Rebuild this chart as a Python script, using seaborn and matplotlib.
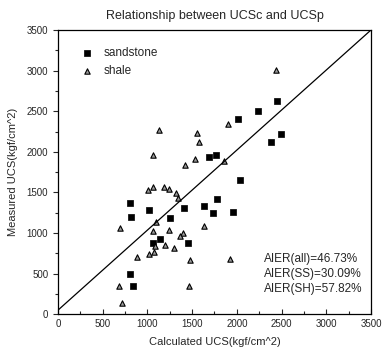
import numpy as np
import pandas as pd
import matplotlib
matplotlib.use("Agg")
import matplotlib.pyplot as plt
import seaborn as sns

# Data
ss_calc = [2452, 2236, 2009, 2497, 2385, 1685, 1770, 2031, 805, 1014, 820, 1413,
           1249, 1636, 1774, 1730, 1953, 1144, 1450, 1062, 809, 842]
ss_meas = [2629, 2509, 2403, 2218, 2123, 1935, 1955, 1651, 1368, 1285, 1195, 1314,
           1191, 1335, 1417, 1245, 1265, 932, 883, 875, 497, 345]
sh_calc = [2434, 1897, 1133, 1558, 1577, 1066, 1535, 1420, 1856, 1003, 1059, 1185,
           1241, 1316, 1342, 693, 1099, 1066, 1245, 1398, 1364, 1633, 1088, 1200,
           1301, 1077, 1021, 887, 1472, 1920, 682, 1465, 719]
sh_meas = [3011, 2345, 2271, 2231, 2120, 1963, 1914, 1832, 1886, 1532, 1573, 1569,
           1540, 1491, 1437, 1068, 1134, 1027, 1039, 1006, 965, 1088, 842, 850,
           821, 772, 739, 702, 665, 686, 353, 345, 139]
line_x = [0, 3500]
line_y = [50, 3500]
annotations = ["AIER(all)=46.73%", "AIER(SS)=30.09%", "AIER(SH)=57.82%"]
ann_y = [678, 497, 312]

df = pd.DataFrame({
    "calc": ss_calc + sh_calc,
    "meas": ss_meas + sh_meas,
    "rock": ["sandstone"] * len(ss_calc) + ["shale"] * len(sh_calc),
})

sns.set_style("ticks")
plt.rcParams["font.family"] = ["Liberation Sans Narrow", "Liberation Sans", "DejaVu Sans"]

fig = plt.figure(figsize=(3.84, 3.62), dpi=100)
ax = fig.add_axes([0.151, 0.132, 0.815, 0.785])

sns.lineplot(x=line_x, y=line_y, ax=ax, color="black", linewidth=0.9)
sns.scatterplot(data=df[df.rock == "sandstone"], x="calc", y="meas", ax=ax,
                marker="s", color="black", edgecolor="black", s=13, linewidth=0.5,
                label="sandstone")
sns.scatterplot(data=df[df.rock == "shale"], x="calc", y="meas", ax=ax,
                marker="^", color="#9a9a9a", edgecolor="black", s=15, linewidth=0.8,
                label="shale")

for t, yy in zip(annotations, ann_y):
    ax.text(2300, yy, t, fontsize=8.5, va="center", ha="left")

ax.set_xlim(0, 3500)
ax.set_ylim(0, 3500)
ax.set_xticks(np.arange(0, 3501, 500))
ax.set_yticks(np.arange(0, 3501, 500))
ax.set_xticks(np.arange(250, 3500, 500), minor=True)
ax.set_yticks(np.arange(250, 3500, 500), minor=True)
ax.tick_params(axis="x", which="both", direction="in", labelsize=7)
ax.tick_params(axis="y", which="both", direction="out", labelsize=7)
ax.tick_params(which="major", length=3.5, width=0.8)
ax.tick_params(which="minor", length=2, width=0.8)
for sp in ax.spines.values():
    sp.set_linewidth(0.9)
    sp.set_color("black")

ax.set_xlabel("Calculated UCS(kgf/cm^2)", fontsize=8, labelpad=6)
ax.set_ylabel("Measured UCS(kgf/cm^2)", fontsize=8, labelpad=6)
ax.set_title("Relationship between UCSc and UCSp", fontsize=9, pad=8)

leg = ax.legend(loc="upper left", bbox_to_anchor=(0.03, 0.97), frameon=False,
                fontsize=8.5, handletextpad=0.4, borderaxespad=0.3,
                labelspacing=0.55, markerscale=1.0)

fig.savefig("out.png", dpi=100)
